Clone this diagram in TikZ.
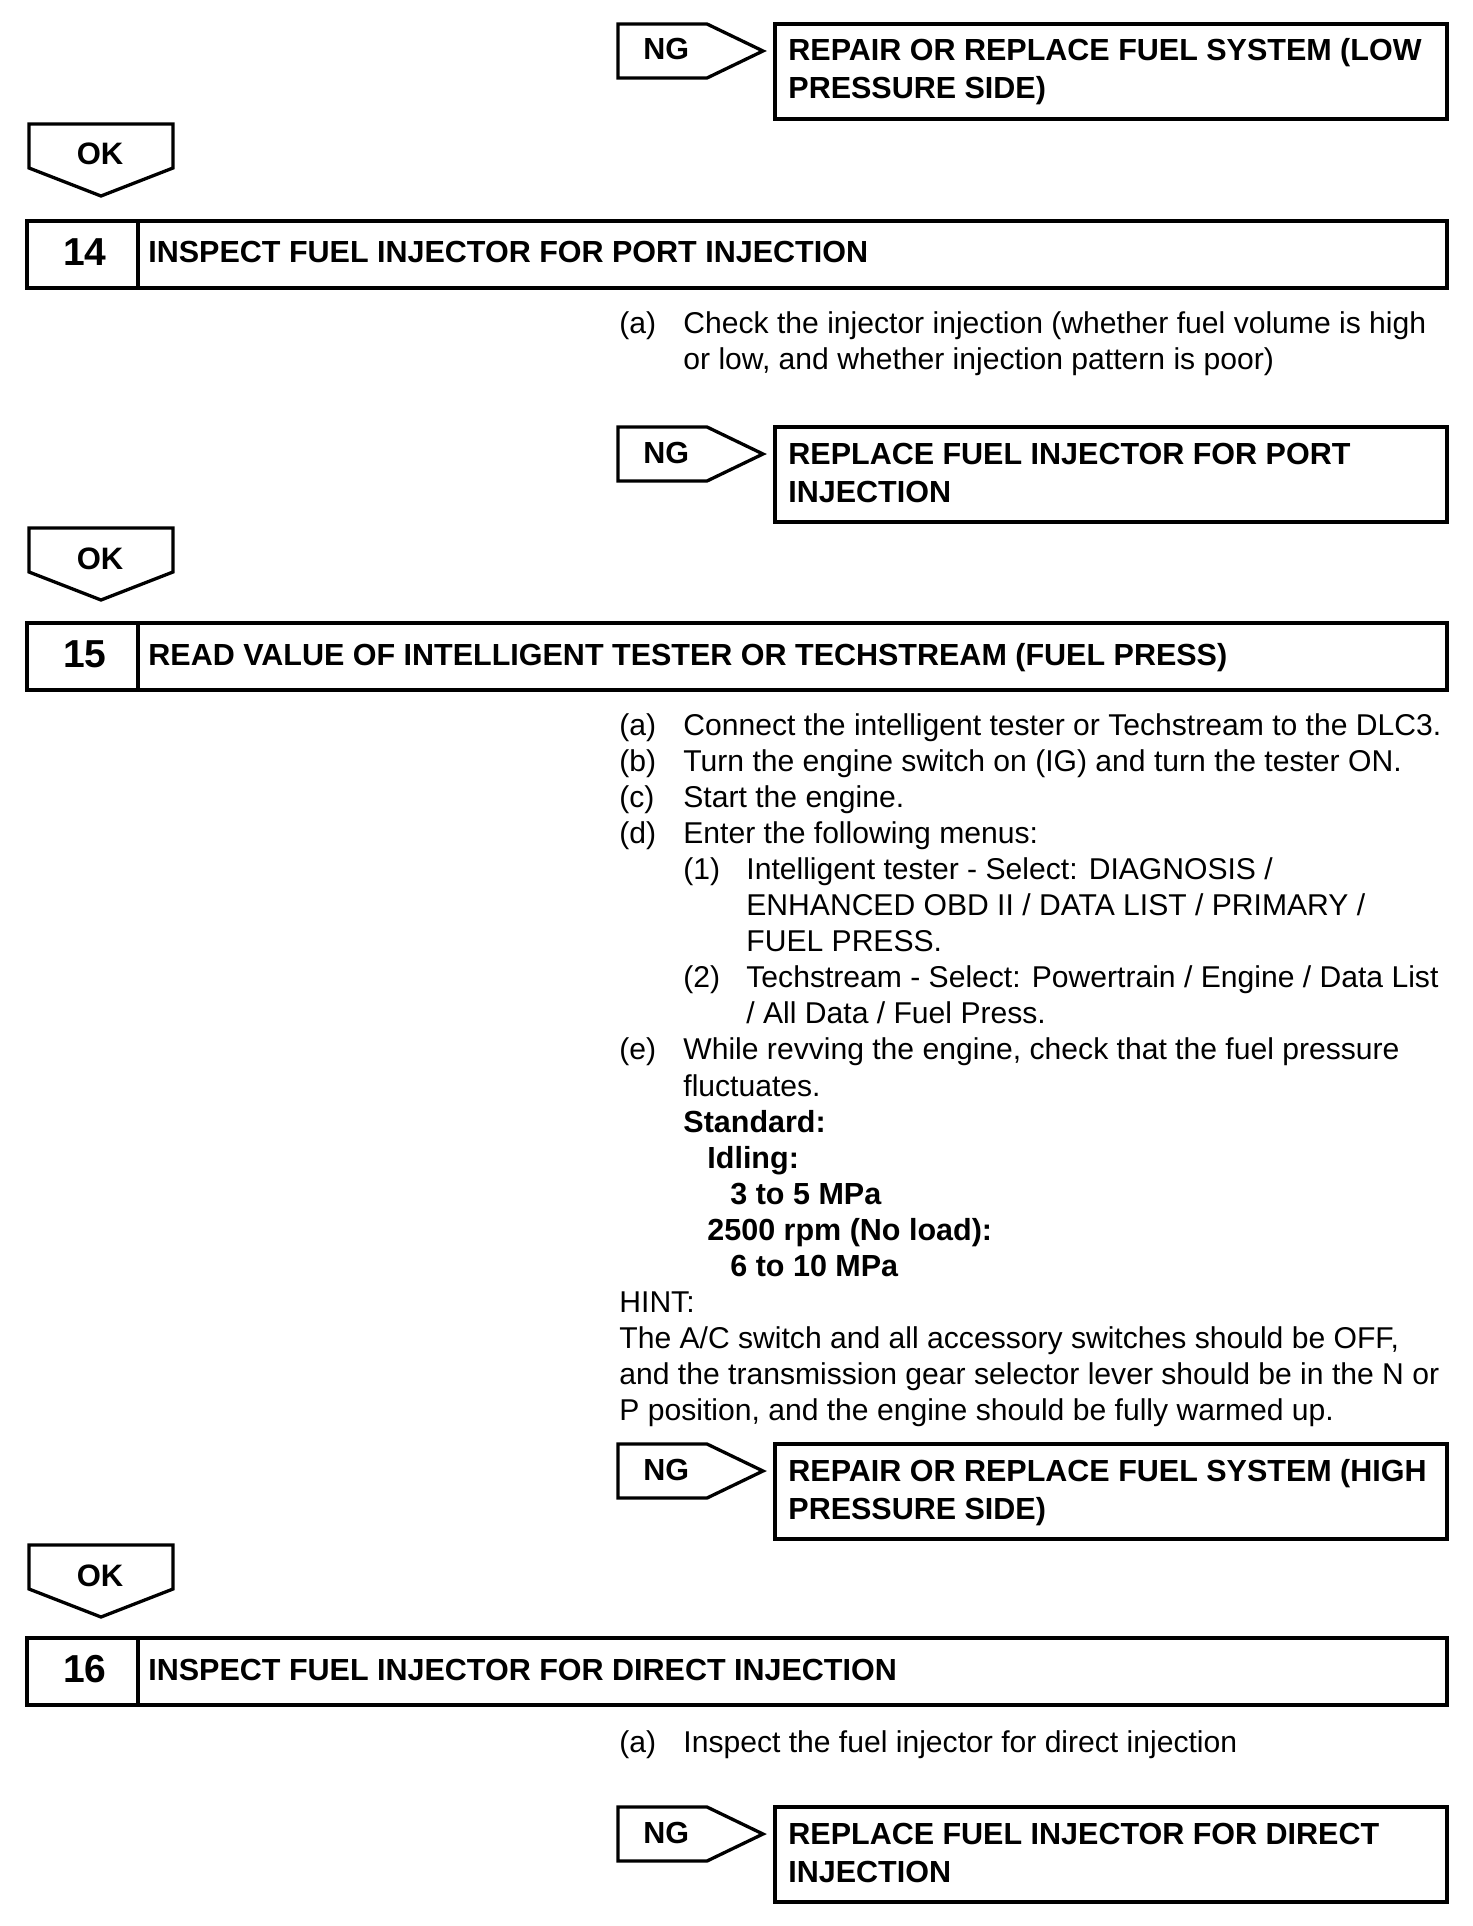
\documentclass[tikz,border=0pt]{standalone}
\usepackage{fontspec}
\setmainfont{Liberation Sans}
\begin{document}
\begin{tikzpicture}[x=0.5pt,y=-0.5pt,
  frame/.style={line width=1.65pt, line join=miter},
  txt/.style={anchor=base west, inner sep=0pt, font=\fontsize{15.05}{18}\selectfont},
  btxt/.style={anchor=base west, inner sep=0pt, font=\fontsize{15.25}{18}\selectfont\bfseries},
  ctxt/.style={anchor=base, inner sep=0pt, font=\fontsize{15.5}{18}\selectfont\bfseries},
  numtxt/.style={anchor=base, inner sep=0pt, font=\fontsize{19.5}{22}\selectfont\bfseries}]
\useasboundingbox[fill=white] (0,0) rectangle (1472,1926);

% ---------- NG 1 ----------
\draw[frame] (618,24) -- (707,24) -- (763,51) -- (707,78) -- (618,78) -- cycle;
\node[btxt] (ng1) at (643,60) {NG};
\draw[frame] (775,24) rectangle (1447,119);
\node[btxt] (r1a) at (788,61) {REPAIR OR REPLACE FUEL SYSTEM (LOW};
\node[btxt] (r1b) at (788,99) {PRESSURE SIDE)};

% ---------- OK 1 ----------
\draw[frame] (29,124) -- (173,124) -- (173,168) -- (101,196) -- (29,168) -- cycle;
\node[ctxt] (ok1) at (100,165) {OK};

% ---------- Step 14 ----------
\draw[frame] (27,221) rectangle (1447,288);
\draw[frame] (138,221) -- (138,288);
\node[numtxt] (n14) at (85,265) {14};
\node[btxt] (t14) at (148,263) {INSPECT FUEL INJECTOR FOR PORT INJECTION};
\node[txt] (s14a) at (619,333) {(a)};
\node[txt] (s14a1) at (683,333) {Check the injector injection (whether fuel volume is high};
\node[txt] (s14a2) at (683,369) {or low, and whether injection pattern is poor)};

% ---------- NG 2 ----------
\draw[frame] (618,427) -- (707,427) -- (763,454) -- (707,481) -- (618,481) -- cycle;
\node[btxt] (ng2) at (643,463) {NG};
\draw[frame] (775,427) rectangle (1447,522);
\node[btxt] (r2a) at (788,464) {REPLACE FUEL INJECTOR FOR PORT};
\node[btxt] (r2b) at (788,502) {INJECTION};

% ---------- OK 2 ----------
\draw[frame] (29,528) -- (173,528) -- (173,572) -- (101,600) -- (29,572) -- cycle;
\node[ctxt] (ok2) at (100,569) {OK};

% ---------- Step 15 ----------
\draw[frame] (27,623) rectangle (1447,690);
\draw[frame] (138,623) -- (138,690);
\node[numtxt] (n15) at (85,667) {15};
\node[btxt] (t15) at (148,665) {READ VALUE OF INTELLIGENT TESTER OR TECHSTREAM (FUEL PRESS)};

\node[txt] (la) at (619,735+36.1*0) {(a)};
\node[txt] (l0) at (683,735+36.1*0) {Connect the intelligent tester or Techstream to the DLC3.};
\node[txt] (lb) at (619,735+36.1*1) {(b)};
\node[txt] (l1) at (683,735+36.1*1) {Turn the engine switch on (IG) and turn the tester ON.};
\node[txt] (lc) at (619,735+36.1*2) {(c)};
\node[txt] (l2) at (683,735+36.1*2) {Start the engine.};
\node[txt] (ld) at (619,735+36.1*3) {(d)};
\node[txt] (l3) at (683,735+36.1*3) {Enter the following menus:};
\node[txt] (l1n) at (683,735+36.1*4) {(1)};
\node[txt] (l4) at (746,735+36.1*4) {Intelligent tester - Select: DIAGNOSIS /};
\node[txt] (l5) at (746,735+36.1*5) {ENHANCED OBD II / DATA LIST / PRIMARY /};
\node[txt] (l6) at (746,735+36.1*6) {FUEL PRESS.};
\node[txt] (l2n) at (683,735+36.1*7) {(2)};
\node[txt] (l7) at (746,735+36.1*7) {Techstream - Select: Powertrain / Engine / Data List};
\node[txt] (l8) at (746,735+36.1*8) {/ All Data / Fuel Press.};
\node[txt] (le) at (619,735+36.1*9) {(e)};
\node[txt] (l9) at (683,735+36.1*9) {While revving the engine, check that the fuel pressure};
\node[txt] (l10) at (683,735+36.1*10) {fluctuates.};
\node[btxt] (l11) at (683,735+36.1*11) {Standard:};
\node[btxt] (l12) at (707,735+36.1*12) {Idling:};
\node[btxt] (l13) at (730,735+36.1*13) {3 to 5 MPa};
\node[btxt] (l14) at (707,735+36.1*14) {2500 rpm (No load):};
\node[btxt] (l15) at (730,735+36.1*15) {6 to 10 MPa};
\node[txt] (l16) at (619,735+36.1*16) {HINT:};
\node[txt] (l17) at (619,735+36.1*17) {The A/C switch and all accessory switches should be OFF,};
\node[txt] (l18) at (619,735+36.1*18) {and the transmission gear selector lever should be in the N or};
\node[txt] (l19) at (619,735+36.1*19) {P position, and the engine should be fully warmed up.};

% ---------- NG 3 ----------
\draw[frame] (618,1444) -- (707,1444) -- (763,1471) -- (707,1498) -- (618,1498) -- cycle;
\node[btxt] (ng3) at (643,1480) {NG};
\draw[frame] (775,1444) rectangle (1447,1539);
\node[btxt] (r3a) at (788,1481) {REPAIR OR REPLACE FUEL SYSTEM (HIGH};
\node[btxt] (r3b) at (788,1519) {PRESSURE SIDE)};

% ---------- OK 3 ----------
\draw[frame] (29,1545) -- (173,1545) -- (173,1589) -- (101,1617) -- (29,1589) -- cycle;
\node[ctxt] (ok3) at (100,1586) {OK};

% ---------- Step 16 ----------
\draw[frame] (27,1638) rectangle (1447,1705);
\draw[frame] (138,1638) -- (138,1705);
\node[numtxt] (n16) at (85,1682) {16};
\node[btxt] (t16) at (148,1680) {INSPECT FUEL INJECTOR FOR DIRECT INJECTION};
\node[txt] (s16a) at (619,1752) {(a)};
\node[txt] (s16a1) at (683,1752) {Inspect the fuel injector for direct injection};

% ---------- NG 4 ----------
\draw[frame] (618,1807) -- (707,1807) -- (763,1834) -- (707,1861) -- (618,1861) -- cycle;
\node[btxt] (ng4) at (643,1843) {NG};
\draw[frame] (775,1807) rectangle (1447,1902);
\node[btxt] (r4a) at (788,1844) {REPLACE FUEL INJECTOR FOR DIRECT};
\node[btxt] (r4b) at (788,1882) {INJECTION};
\end{tikzpicture}
\end{document}
